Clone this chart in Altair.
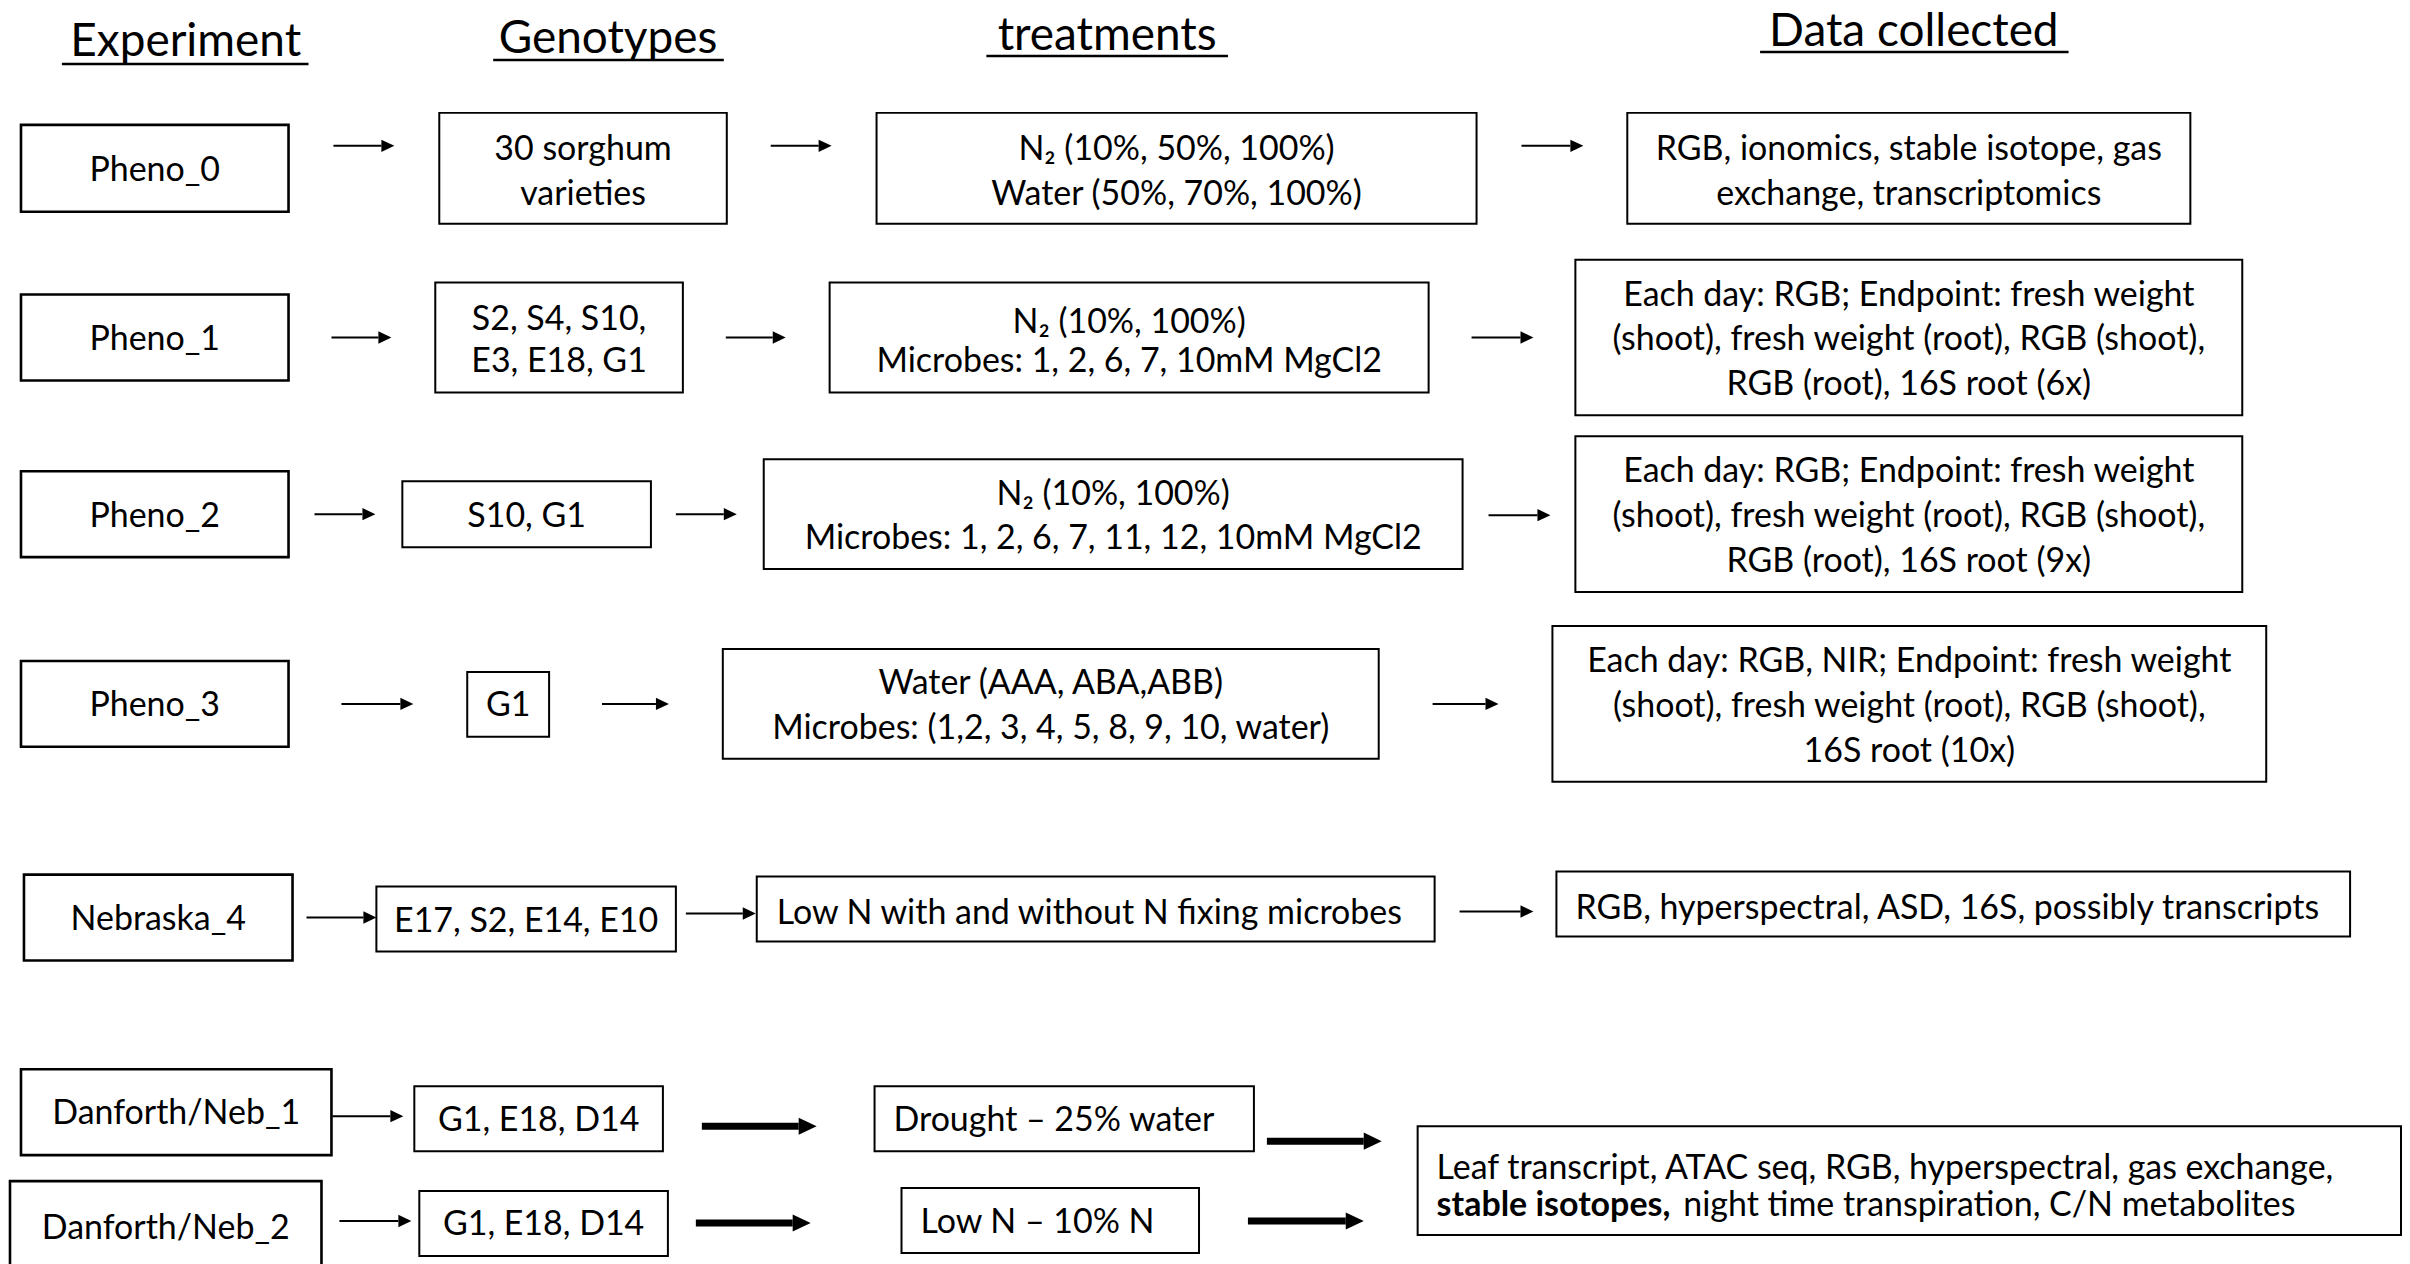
import altair as alt
import pandas as pd

# ---------------- content ----------------
headers = ["Experiment", "Genotypes", "treatments", "Data collected"]
experiments = ["Pheno_0", "Pheno_1", "Pheno_2", "Pheno_3", "Nebraska_4",
               "Danforth/Neb_1", "Danforth/Neb_2"]
genotypes = [["30 sorghum", "varieties"],
             ["S2, S4, S10,", "E3, E18, G1"],
             ["S10, G1"],
             ["G1"],
             ["E17, S2, E14, E10"],
             ["G1, E18, D14"],
             ["G1, E18, D14"]]
treatments = [["N₂ (10%, 50%, 100%)", "Water (50%, 70%, 100%)"],
              ["N₂ (10%, 100%)", "Microbes: 1, 2, 6, 7, 10mM MgCl2"],
              ["N₂ (10%, 100%)", "Microbes: 1, 2, 6, 7, 11, 12, 10mM MgCl2"],
              ["Water (AAA, ABA,ABB)", "Microbes: (1,2, 3, 4, 5, 8, 9, 10, water)"],
              ["Low N with and without N fixing microbes"],
              ["Drought – 25% water"],
              ["Low N – 10% N"]]
data_collected = [["RGB, ionomics, stable isotope, gas", "exchange, transcriptomics"],
                  ["Each day: RGB; Endpoint: fresh weight",
                   "(shoot), fresh weight (root), RGB (shoot),",
                   "RGB (root), 16S root (6x)"],
                  ["Each day: RGB; Endpoint: fresh weight",
                   "(shoot), fresh weight (root), RGB (shoot),",
                   "RGB (root), 16S root (9x)"],
                  ["Each day: RGB, NIR; Endpoint: fresh weight",
                   "(shoot), fresh weight (root), RGB (shoot),",
                   "16S root (10x)"],
                  ["RGB, hyperspectral, ASD, 16S, possibly transcripts"],
                  ["Leaf transcript, ATAC seq, RGB, hyperspectral, gas exchange,"]]
shared_bold = "stable isotopes,"
shared_rest = "night time transpiration, C/N metabolites"

# ---------------- layout (pixel positions in the figure) ----------------
header_pos = [(186, 41), (609, 38), (1109, 35), (1917, 31)]
underline = [(62, 309, 63), (494, 725, 59), (988, 1230, 55), (1763, 2072, 51)]

exp_box = [(21, 289, 124, 211), (21, 289, 294, 380), (21, 289, 471, 557),
           (21, 289, 661, 747), (24, 293, 875, 961), (21, 332, 1070, 1156),
           (10, 322, 1182, 1300)]
exp_y = [170, 340, 517, 706, 920, 1115, 1230]

gen_box = [(440, 728, 112, 223), (436, 684, 282, 392), (403, 652, 481, 547),
           (468, 550, 672, 737), (377, 677, 887, 952), (415, 664, 1087, 1152),
           (420, 669, 1192, 1257)]
gen_y = [[149, 194], [319, 362], [517], [706], [922], [1122], [1226]]

trt_box = [(878, 1479, 112, 223), (831, 1431, 282, 392), (765, 1465, 459, 569),
           (724, 1381, 649, 759), (758, 1437, 877, 942), (876, 1256, 1087, 1152),
           (903, 1201, 1189, 1254)]
trt_y = [[149, 194], [322, 362], [495, 539], [684, 729], [914], [1122], [1224]]
trt_left = [None, None, None, None, 778, 895, 922]

dat_box = [(1630, 2194, 112, 223), (1578, 2246, 259, 415), (1578, 2246, 436, 592),
           (1555, 2270, 626, 782), (1559, 2354, 872, 937), (1420, 2405, 1127, 1236)]
dat_y = [[149, 194], [295, 340, 385], [472, 517, 562], [662, 707, 752], [909], [1170]]
dat_left = [None, None, None, None, 1578, 1439]
shared_line_y = 1207
shared_bold_x = 1439
shared_rest_x = 1686

thin_arrows = [(334, 395, 145), (772, 833, 145), (1524, 1586, 145),
               (332, 392, 337), (727, 787, 337), (1474, 1536, 337),
               (315, 376, 514), (677, 738, 514), (1491, 1553, 515),
               (342, 414, 704), (603, 670, 704), (1435, 1501, 704),
               (307, 377, 918), (687, 757, 914), (1462, 1536, 912),
               (333, 404, 1117), (340, 412, 1222)]
thick_arrows = [(703, 818, 1127), (1269, 1384, 1142),
                (697, 812, 1224), (1250, 1366, 1222)]

FONT = "Lato"
BODY = 34
HEAD = 46
W, H = 2398, 1256

# ---------------- tables ----------------
xs = alt.Scale(domain=[8, 8 + W], nice=False, zero=False)
ys = alt.Scale(domain=[8, 8 + H], nice=False, zero=False, reverse=True)

def boxes_df(bs):
    return pd.DataFrame([dict(x1=a, x2=b, y1=c, y2=d) for a, b, c, d in bs])

center_rows, left_rows = [], []
for name, (x1, x2, y1, y2), y in zip(experiments, exp_box, exp_y):
    center_rows.append(dict(x=(x1 + x2) / 2, y=y, t=name))
for lines, (x1, x2, y1, y2), yl in zip(genotypes, gen_box, gen_y):
    for t, y in zip(lines, yl):
        center_rows.append(dict(x=(x1 + x2) / 2, y=y, t=t))
for lines, (x1, x2, y1, y2), yl, lx in zip(treatments, trt_box, trt_y, trt_left):
    for t, y in zip(lines, yl):
        if lx is None:
            center_rows.append(dict(x=(x1 + x2) / 2, y=y, t=t))
        else:
            left_rows.append(dict(x=lx, y=y, t=t))
for lines, (x1, x2, y1, y2), yl, lx in zip(data_collected, dat_box, dat_y, dat_left):
    for t, y in zip(lines, yl):
        if lx is None:
            center_rows.append(dict(x=(x1 + x2) / 2, y=y, t=t))
        else:
            left_rows.append(dict(x=lx, y=y, t=t))
left_rows.append(dict(x=shared_rest_x, y=shared_line_y, t=shared_rest))
bold_rows = [dict(x=shared_bold_x, y=shared_line_y, t=shared_bold)]
head_rows = [dict(x=x, y=y, t=t) for t, (x, y) in zip(headers, header_pos)]
ul_rows = [dict(x1=a, x2=b, y=c) for a, b, c in underline]

def arrows_df(arr, head):
    return pd.DataFrame([dict(x1=a, x2=b - head, y=c, hx=b - head / 2) for a, b, c in arr])

thin_df = arrows_df(thin_arrows, 13)
thick_df = arrows_df(thick_arrows, 18)

X = lambda f: alt.X(f, type="quantitative", scale=xs, axis=None)
Y = lambda f: alt.Y(f, type="quantitative", scale=ys, axis=None)

def rect_layer(df, sw):
    return alt.Chart(df).mark_rect(fill="white", stroke="black", strokeWidth=sw).encode(
        x=X("x1"), x2="x2", y=Y("y1"), y2="y2")

def text_layer(rows, align, size, weight="normal"):
    return alt.Chart(pd.DataFrame(rows)).mark_text(
        font=FONT, fontSize=size, align=align, baseline="middle",
        color="black", fontWeight=weight).encode(x=X("x"), y=Y("y"), text="t:N")

shafts_thin = alt.Chart(thin_df).mark_rule(color="black", strokeWidth=2).encode(
    x=X("x1"), x2="x2", y=Y("y"))
shafts_thick = alt.Chart(thick_df).mark_rule(color="black", strokeWidth=7).encode(
    x=X("x1"), x2="x2", y=Y("y"))
heads_thin = alt.Chart(thin_df).mark_point(
    shape="M-1,-0.95L1,0L-1,0.95Z", filled=True, size=169, color="black", opacity=1,
    strokeWidth=0).encode(x=X("hx"), y=Y("y"))
heads_thick = alt.Chart(thick_df).mark_point(
    shape="M-1,-0.95L1,0L-1,0.95Z", filled=True, size=324, color="black", opacity=1,
    strokeWidth=0).encode(x=X("hx"), y=Y("y"))
underlines = alt.Chart(pd.DataFrame(ul_rows)).mark_rule(color="black", strokeWidth=2.5).encode(
    x=X("x1"), x2="x2", y=Y("y"))

chart = alt.layer(
    rect_layer(boxes_df(exp_box), 2.6),
    rect_layer(boxes_df(gen_box + trt_box + dat_box), 2),
    shafts_thin, shafts_thick, heads_thin, heads_thick, underlines,
    text_layer(center_rows, "center", BODY),
    text_layer(left_rows, "left", BODY),
    text_layer(bold_rows, "left", BODY, "bold"),
    text_layer(head_rows, "center", HEAD),
).properties(width=W, height=H, padding=0, autosize="none", background="white"
).configure_view(strokeWidth=0)

chart.save("out.html", embed_options={"renderer": "svg", "actions": False})
